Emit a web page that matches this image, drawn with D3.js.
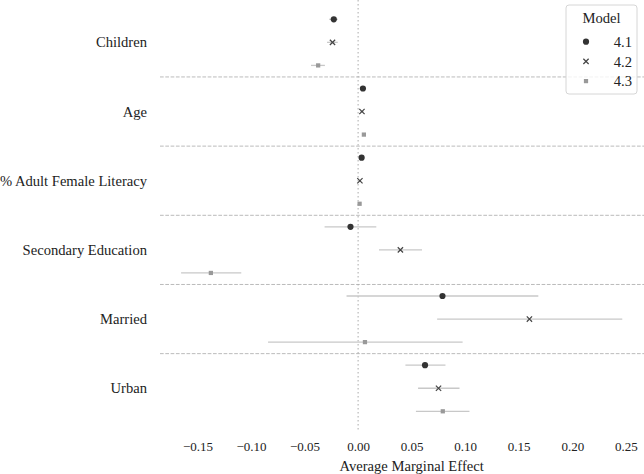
<!DOCTYPE html><meta charset="utf-8"><style>
    body { margin: 0; background: #fff; }
    svg { display: block; font-family: "Liberation Serif", "DejaVu Serif", serif; }
    .tick text { fill: #222; font-size: 13px; font-family: "Liberation Serif", serif; }
</style><svg width="644" height="474"></svg><script src="https://cdn.jsdelivr.net/npm/d3@7"></script><script>

    var width = 644, height = 474;
    var margin = ({top: 0, right: 0, bottom: 42, left: 160});

    var categories = ["Children", "Age", "% Adult Female Literacy", "Secondary Education", "Married", "Urban"];
    var models = ["4.1", "4.2", "4.3"];

    // point estimates, one array per model, same order as categories
    var est41 = [-0.0227, 0.0045, 0.0033, -0.0071, 0.0788, 0.0625];
    var est42 = [-0.0239, 0.0036, 0.0017, 0.0395, 0.1600, 0.0751];
    var est43 = [-0.0373, 0.0054, 0.0014, -0.1375, 0.0064, 0.0791];

    // confidence interval bounds
    var lo41 = [-0.0270, 0.0030, 0.0023, -0.0313, -0.0108, 0.0442];
    var hi41 = [-0.0190, 0.0060, 0.0043, 0.0170, 0.1683, 0.0816];
    var lo42 = [-0.0290, 0.0021, 0.0007, 0.0195, 0.0738, 0.0560];
    var hi42 = [-0.0190, 0.0051, 0.0027, 0.0597, 0.2467, 0.0947];
    var lo43 = [-0.0440, 0.0039, 0.0004, -0.1653, -0.0841, 0.0540];
    var hi43 = [-0.0310, 0.0069, 0.0024, -0.1091, 0.0976, 0.1040];

    var xTicks = [-0.15, -0.10, -0.05, 0.00, 0.05, 0.10, 0.15, 0.20, 0.25];

    var est = {"4.1": est41, "4.2": est42, "4.3": est43};
    var lo = {"4.1": lo41, "4.2": lo42, "4.3": lo43};
    var hi = {"4.1": hi41, "4.2": hi42, "4.3": hi43};

    var data = [];
    categories.forEach((c, i) => models.forEach(m => data.push({
        cat: c, model: m, key: c + "|" + m,
        value: est[m][i], lo: lo[m][i], hi: hi[m][i]
    })));

    var color = d3.scaleOrdinal().domain(models).range(["#333", "#444", "#999"]);

    var x = d3.scaleLinear()
        .domain([-0.185, 0.267])
        .range([margin.left, width - margin.right]);

    var y = d3.scalePoint()
        .domain(data.map(d => d.key))
        .range([19.3, 411.3]);

    var plotBottom = height - margin.bottom;

    const svg = d3.select("svg")
        .attr("viewBox", [0, 0, width, height]);

    // separators between categories
    svg.append("g")
        .selectAll("line")
        .data(categories.slice(1))
        .join("line")
        .attr("x1", margin.left)
        .attr("x2", width)
        .attr("y1", c => (y(c + "|4.1") + y(categories[categories.indexOf(c) - 1] + "|4.3")) / 2)
        .attr("y2", c => (y(c + "|4.1") + y(categories[categories.indexOf(c) - 1] + "|4.3")) / 2)
        .attr("stroke", "#bbb")
        .attr("stroke-width", 1)
        .attr("stroke-dasharray", "3.7,1.6");

    // zero line
    svg.append("line")
        .attr("x1", x(0)).attr("x2", x(0))
        .attr("y1", 0).attr("y2", plotBottom)
        .attr("stroke", "#aaa")
        .attr("stroke-width", 1)
        .attr("stroke-dasharray", "1.5,2.5");

    // error bars
    svg.append("g")
        .selectAll("line")
        .data(data)
        .join("line")
        .attr("x1", d => x(d.lo))
        .attr("x2", d => x(d.hi))
        .attr("y1", d => y(d.key))
        .attr("y2", d => y(d.key))
        .attr("stroke", "#c8c8c8")
        .attr("stroke-width", 1.3);

    var symbol = {
        "4.1": d3.symbol(d3.symbolCircle, 30)(),
        "4.2": d3.symbol(d3.symbolTimes, 20)(),
        "4.3": d3.symbol(d3.symbolSquare, 18)()
    };

    function drawMarker(sel, m) {
        sel.attr("d", symbol[m]);
        if (m === "4.2") sel.attr("fill", "none").attr("stroke", color(m)).attr("stroke-width", 1.2);
        else sel.attr("fill", color(m)).attr("stroke", "none");
    }

    svg.append("g")
        .selectAll("path")
        .data(data)
        .join("path")
        .attr("transform", d => `translate(${x(d.value)},${y(d.key)})`)
        .each(function(d) { drawMarker(d3.select(this), d.model); });

    // category labels
    svg.append("g")
        .selectAll("text")
        .data(categories)
        .join("text")
        .attr("x", 147)
        .attr("y", c => y(c + "|4.2"))
        .attr("dy", "0.35em")
        .attr("text-anchor", "end")
        .attr("font-size", 14.6)
        .attr("fill", "#222")
        .text(c => c);

    var xAxis = g => g
        .attr("transform", `translate(0,${plotBottom})`)
        .call(d3.axisBottom(x).tickValues(xTicks).tickFormat(d3.format(".2f")).tickSize(0).tickPadding(10))
        .call(g => g.attr("font-family", null))
        .call(g => g.selectAll(".domain").remove());

    svg.append("g").call(xAxis);

    svg.append("text")
        .attr("x", x(0.05))
        .attr("y", 471)
        .attr("text-anchor", "middle")
        .attr("font-size", 14.6)
        .attr("fill", "#222")
        .text("Average Marginal Effect");

    // legend
    var legend = svg.append("g").attr("transform", "translate(566,5)");

    legend.append("rect")
        .attr("width", 71).attr("height", 89)
        .attr("rx", 3)
        .attr("fill", "#fff").attr("fill-opacity", 0.8)
        .attr("stroke", "#d6d6d6");

    legend.append("text")
        .attr("x", 35.5).attr("y", 13)
        .attr("dy", "0.35em")
        .attr("text-anchor", "middle")
        .attr("font-size", 14.6)
        .attr("fill", "#222")
        .text("Model");

    var item = legend.selectAll(".item")
        .data(models)
        .join("g")
        .attr("class", "item")
        .attr("transform", (m, i) => `translate(0,${36.7 + i * 19.7})`);

    item.append("path")
        .attr("transform", "translate(20,0)")
        .each(function(m) { drawMarker(d3.select(this), m); });

    item.append("text")
        .attr("x", 66)
        .attr("dy", "0.35em")
        .attr("text-anchor", "end")
        .attr("font-size", 14.6)
        .attr("fill", "#222")
        .text(m => m);

</script>
